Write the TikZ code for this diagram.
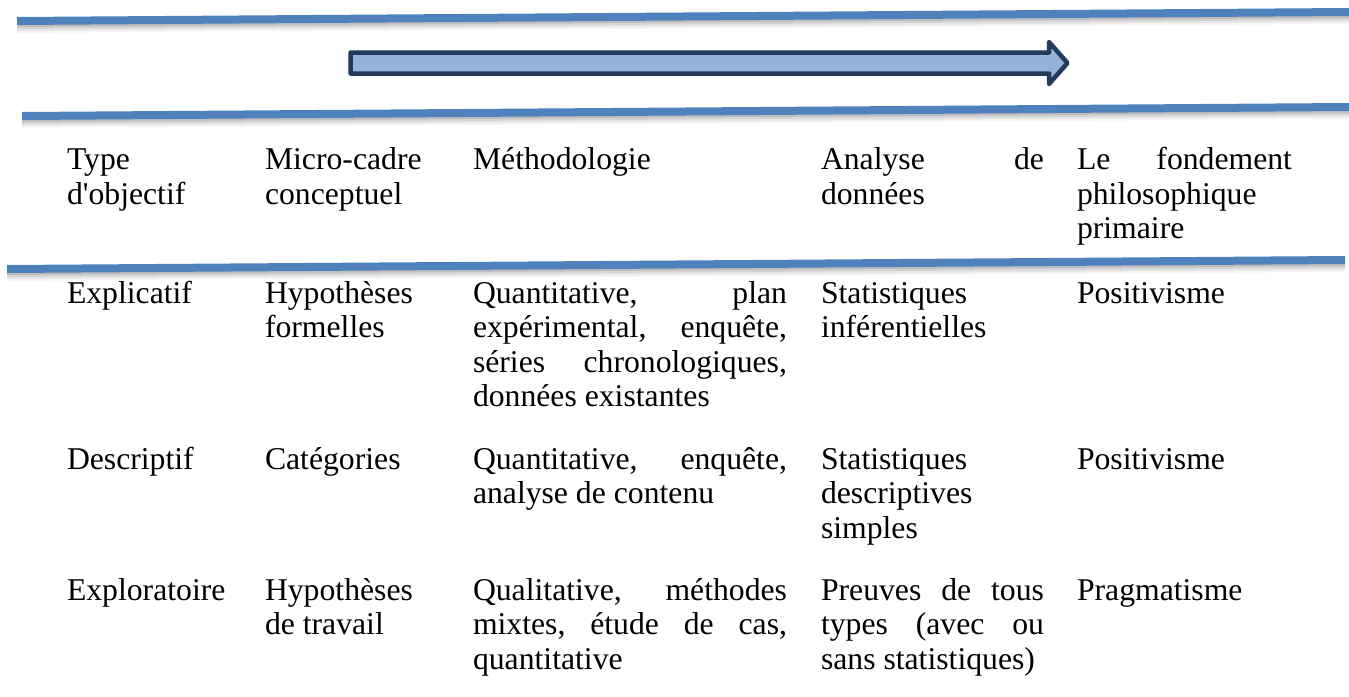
\documentclass[tikz,border=0pt]{standalone}
\usepackage{fontspec}
\newfontfamily\cellff{Liberation Serif}
\definecolor{rulblue}{HTML}{4F81BD}
\definecolor{arrfill}{HTML}{95B3D7}
\definecolor{arrline}{HTML}{243A5C}
\newcommand\cellfont{\cellff\fontsize{31.7}{34.6}\selectfont}
\newcommand\jl[2]{\hbox to #1pt{#2}}
\newcommand\nl[1]{\hbox{#1}}
\newcommand\cellbox[1]{\vtop{\lineskiplimit=-100pt\relax #1}}
\tikzset{
  cell/.style={anchor=base west, inner sep=0pt, outer sep=0pt, font=\cellfont},
  rulestyle/.style={line width=8pt, draw=rulblue, line cap=butt},
  arrowshape/.style={line width=4.5pt, draw=arrline, fill=arrfill, line join=round}
}
\newcommand\ruleshadow[2]{%
  \foreach \o/\op in {2/0.10,4/0.08,6/0.06,8/0.04}{%
    \draw[line width=8pt, black, opacity=\op] ([yshift=-\o pt]#1) -- ([yshift=-\o pt]#2);}%
  \draw[rulestyle] (#1) -- (#2);}
\begin{document}
\begin{tikzpicture}[x=1pt,y=-1pt]
\useasboundingbox[fill=white] (0,0) rectangle (1349,696);
% rules
\coordinate (r1a) at (17,21);  \coordinate (r1b) at (1349,12);
\coordinate (r2a) at (22,116); \coordinate (r2b) at (1349,107);
\coordinate (r3a) at (7,269);  \coordinate (r3b) at (1345,260);
\ruleshadow{r1a}{r1b}
\ruleshadow{r2a}{r2b}
\ruleshadow{r3a}{r3b}
% arrow
\draw[arrowshape] (350.5,52.5) -- (1049,52.5) -- (1049,42) -- (1067.5,63) -- (1049,84) -- (1049,73.5) -- (350.5,73.5) -- cycle;
% header
\node[cell] (h1) at (67,169.5) {\cellbox{\nl{Type}\nl{d'objectif}}};
\node[cell] (h2) at (265,169.5) {\cellbox{\nl{Micro-cadre}\nl{conceptuel}}};
\node[cell] (h3) at (473,169.5) {\cellbox{\nl{Méthodologie}}};
\node[cell] (h4) at (821,169.5) {\cellbox{\jl{223}{Analyse\hfill de}\nl{données}}};
\node[cell] (h5) at (1077,169.5) {\cellbox{\jl{215}{Le\hfill fondement}\nl{philosophique}\nl{primaire}}};
% row 1
\node[cell] (a1) at (67,303) {\cellbox{\nl{Explicatif}}};
\node[cell] (a2) at (265,303) {\cellbox{\nl{Hypothèses}\nl{formelles}}};
\node[cell] (a3) at (473,303) {\cellbox{\jl{314}{Quantitative,\hfill plan}\jl{314}{expérimental,\hfill enquête,}\jl{314}{séries\hfill chronologiques,}\nl{données existantes}}};
\node[cell] (a4) at (821,303) {\cellbox{\nl{Statistiques}\nl{inférentielles}}};
\node[cell] (a5) at (1077,303) {\cellbox{\nl{Positivisme}}};
% row 2
\node[cell] (b1) at (67,469) {\cellbox{\nl{Descriptif}}};
\node[cell] (b2) at (265,469) {\cellbox{\nl{Catégories}}};
\node[cell] (b3) at (473,469) {\cellbox{\jl{314}{Quantitative,\hfill enquête,}\nl{analyse de contenu}}};
\node[cell] (b4) at (821,469) {\cellbox{\nl{Statistiques}\nl{descriptives}\nl{simples}}};
\node[cell] (b5) at (1077,469) {\cellbox{\nl{Positivisme}}};
% row 3
\node[cell] (c1) at (67,600) {\cellbox{\nl{Exploratoire}}};
\node[cell] (c2) at (265,600) {\cellbox{\nl{Hypothèses}\nl{de travail}}};
\node[cell] (c3) at (473,600) {\cellbox{\jl{314}{Qualitative,\hfill méthodes}\jl{314}{mixtes,\hfill étude\hfill de\hfill cas,}\nl{quantitative}}};
\node[cell] (c4) at (821,600) {\cellbox{\jl{223}{Preuves\hfill de\hfill tous}\jl{223}{types\hfill (avec\hfill ou}\nl{sans statistiques)}}};
\node[cell] (c5) at (1077,600) {\cellbox{\nl{Pragmatisme}}};
\end{tikzpicture}
\end{document}
